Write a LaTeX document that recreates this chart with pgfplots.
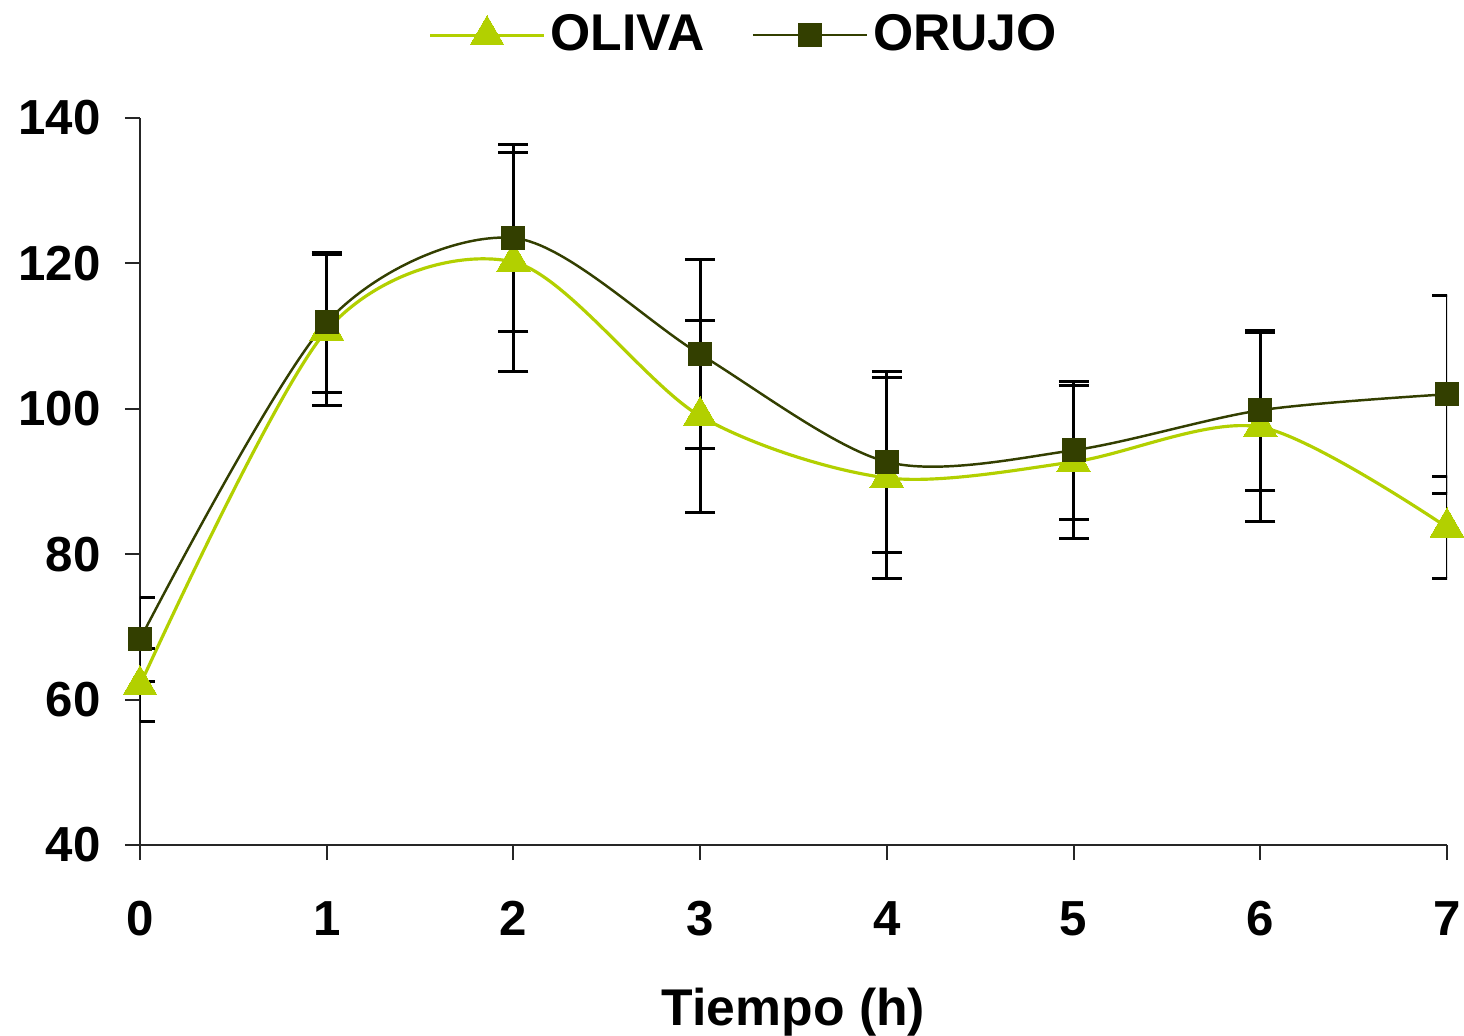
\documentclass[border=0pt]{standalone}
\usepackage{pgfplots}
\pgfplotsset{compat=1.18}
\usepackage{fontspec}
\setmainfont{Liberation Sans}
\definecolor{oliva}{HTML}{B2D000}
\definecolor{orujo}{HTML}{333F00}
\begin{document}
\begin{tikzpicture}
\useasboundingbox (-14mm,-19mm) rectangle (132.4mm,84.5mm);
\begin{axis}[
    at={(0,0)}, anchor=south west,
    scale only axis,
    width=130.7mm, height=72.7mm,
    xmin=0, xmax=7, ymin=40, ymax=140,
    xtick={0,...,7}, ytick={40,60,...,140},
    axis lines*=left,
    axis line style={-, line width=0.6pt, black!85},
    tick style={line width=0.6pt, black!85},
    tick align=outside,
    major tick length=1.5mm,
    /pgf/number format/assume math mode=true,
    ticklabel style={font=\fontsize{14}{16}\selectfont\bfseries},
    xticklabel style={yshift=-2.9mm},
    yticklabel style={xshift=-1.2mm},
    xlabel={Tiempo (h)},
    xlabel style={font=\fontsize{14.7}{17}\selectfont\bfseries, yshift=-2.8mm},
    legend columns=2,
    legend style={draw=none, fill=none, at={(0.463,1.114)}, anchor=center,
        font=\fontsize{14.7}{17}\selectfont\bfseries,
        /tikz/every odd column/.append style={column sep=0mm},
        /tikz/every even column/.append style={column sep=4.2mm},
        nodes={inner sep=0.5mm}},
    legend image code/.code={
        \draw[mark repeat=2, mark phase=2] plot coordinates {(0mm,0mm) (5.7mm,0mm) (11.4mm,0mm)};},
    error bars/y dir=both,
    error bars/y explicit,
    error bars/error bar style={black, line width=0.85pt},
    error bars/error mark options={black, line width=0.85pt, mark size=1.5mm, rotate=90},
]
\addplot[oliva, line width=0.9pt, smooth, tension=0.5, mark=triangle*, mark size=1.95mm,
    mark options={fill=oliva, draw=oliva, line width=0pt}]
    coordinates {
    (0,62) +- (0,5)
    (1,110.8) +- (0,10.4)
    (2,120.2) +- (0,15)
    (3,99) +- (0,13.2)
    (4,90.5) +- (0,13.8)
    (5,92.7) +- (0,10.5)
    (6,97.5) +- (0,13)
    (7,83.7) +- (0,7)
};
\addplot[orujo, line width=0.7pt, smooth, tension=0.5, mark=square*, mark size=1.15mm,
    mark options={fill=orujo, draw=orujo, line width=0pt}]
    coordinates {
    (0,68.3) +- (0,5.8)
    (1,111.9) +- (0,9.6)
    (2,123.5) +- (0,12.8)
    (3,107.5) +- (0,13)
    (4,92.7) +- (0,12.4)
    (5,94.3) +- (0,9.5)
    (6,99.8) +- (0,11)
    (7,102) +- (0,13.6)
};
\legend{OLIVA, ORUJO}
\end{axis}
\end{tikzpicture}
\end{document}
